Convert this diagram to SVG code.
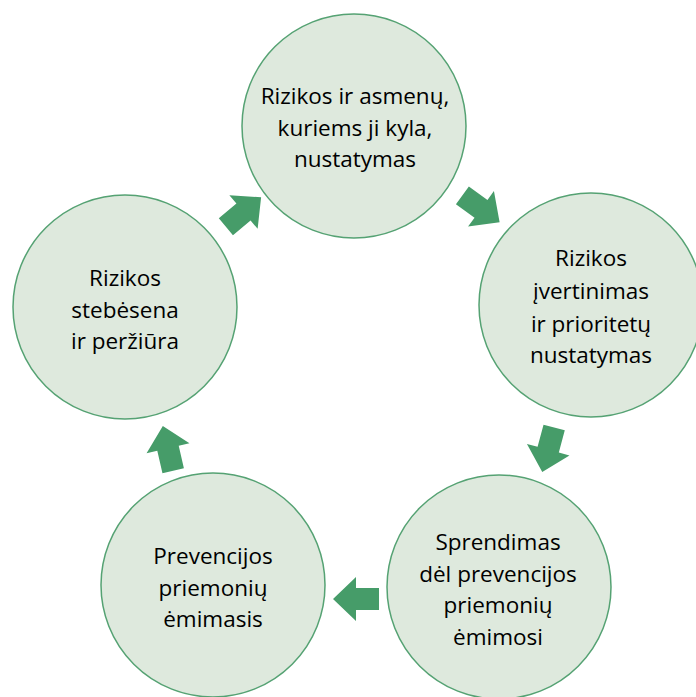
<svg xmlns="http://www.w3.org/2000/svg" width="696" height="697" viewBox="0 0 696 697">
<style>
.node{fill:#dee9dd;stroke:#55a273;stroke-width:1.5}
.lbl{font-family:"Open Sans","Noto Sans","Liberation Sans",sans-serif;font-size:22.5px;fill:#000;text-anchor:middle}
.arr{fill:#469c69}
</style>
<defs>
<polygon id="arrow" points="-23,-11 0,-11 0,-22 23,0 0,22 0,11 -23,11"/>
</defs>
<rect width="696" height="697" fill="#fff"/>
<g id="n1">
<circle class="node" cx="354" cy="126" r="112"/>
<text class="lbl"><tspan x="355" y="104">Rizikos ir asmenų,</tspan><tspan x="355" y="135.5">kuriems ji kyla,</tspan><tspan x="355" y="167">nustatymas</tspan></text>
</g>
<g id="n2">
<circle class="node" cx="591" cy="305" r="112"/>
<text class="lbl"><tspan x="591" y="266">Rizikos</tspan><tspan x="591" y="299">įvertinimas</tspan><tspan x="591" y="331.5">ir prioritetų</tspan><tspan x="591" y="363">nustatymas</tspan></text>
</g>
<g id="n3">
<circle class="node" cx="499" cy="587" r="112"/>
<text class="lbl"><tspan x="498" y="550">Sprendimas</tspan><tspan x="498" y="581.5">dėl prevencijos</tspan><tspan x="498" y="613">priemonių</tspan><tspan x="498" y="645">ėmimosi</tspan></text>
</g>
<g id="n4">
<circle class="node" cx="213" cy="585" r="112"/>
<text class="lbl"><tspan x="213" y="564">Prevencijos</tspan><tspan x="213" y="596">priemonių</tspan><tspan x="213" y="627">ėmimasis</tspan></text>
</g>
<g id="n5">
<circle class="node" cx="125" cy="307" r="112"/>
<text class="lbl"><tspan x="125" y="286">Rizikos</tspan><tspan x="125" y="318">stebėsena</tspan><tspan x="125" y="349">ir peržiūra</tspan></text>
</g>
<g id="connectors">
<use href="#arrow" class="arr" transform="translate(243.5,212) rotate(-40)"/>
<use href="#arrow" class="arr" transform="translate(481,208.8) rotate(36)"/>
<use href="#arrow" class="arr" transform="translate(548.2,449.7) rotate(105)"/>
<use href="#arrow" class="arr" transform="translate(356,599) rotate(180)"/>
<use href="#arrow" class="arr" transform="translate(168,448.3) rotate(-103)"/>
</g>
</svg>
